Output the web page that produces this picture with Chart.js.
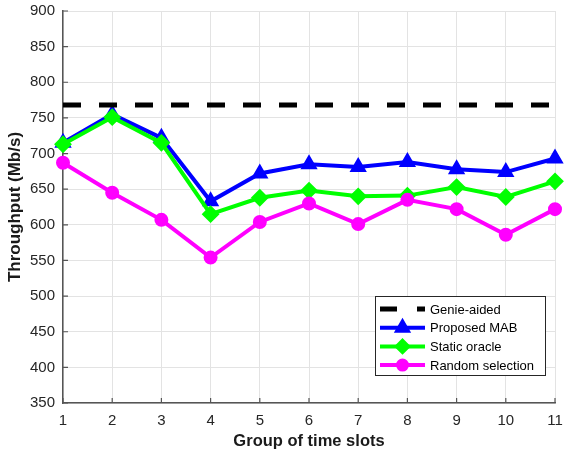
<!DOCTYPE html>
<html>
<head>
<meta charset="utf-8">
<script src="https://cdn.jsdelivr.net/npm/chart.js@4.4.1/dist/chart.umd.min.js"></script>
<style>
html, body { margin: 0; padding: 0; background: #fff; }
#wrap { width: 565px; height: 453px; }
</style>
</head>
<body>
<div id="wrap"><canvas id="chart" width="565" height="453"></canvas></div>
<script>
// data
var groups = [1, 2, 3, 4, 5, 6, 7, 8, 9, 10, 11];
var genieAided = [768, 768, 768, 768, 768, 768, 768, 768, 768, 768, 768];
var proposedMab = [715, 755, 722, 633, 672, 685, 681, 688, 678, 674, 693];
var staticOracle = [713, 751, 715, 615, 638, 648, 640, 641, 653, 639, 661];
var randomSelection = [687, 645, 607, 554, 604, 630, 601, 635, 622, 586, 622];
var yTicks = [350, 400, 450, 500, 550, 600, 650, 700, 750, 800, 850, 900];

var FONT = "'Liberation Sans', Arial, Helvetica, sans-serif";

function pts(vals) {
	return groups.map(function(g, i) { return { x: g, y: vals[i] }; });
}

// draw a marker like the matlab ones
function marker(ctx, style, x, y, r, color) {
	ctx.save();
	ctx.fillStyle = color;
	ctx.strokeStyle = color;
	ctx.lineWidth = 2;
	ctx.beginPath();
	if (style == 'triangle') {
		ctx.moveTo(x, y - r);
		ctx.lineTo(x + r * 0.866, y + r * 0.5);
		ctx.lineTo(x - r * 0.866, y + r * 0.5);
		ctx.closePath();
	} else if (style == 'rectRot') {
		ctx.moveTo(x, y - r);
		ctx.lineTo(x + r, y);
		ctx.lineTo(x, y + r);
		ctx.lineTo(x - r, y);
		ctx.closePath();
	} else {
		ctx.arc(x, y, r, 0, Math.PI * 2);
	}
	ctx.fill();
	ctx.stroke();
	ctx.restore();
}

// inward ticks + legend box inside the plot
var extras = {
	id: 'extras',
	afterDatasetsDraw: function(chart) {
		var ctx = chart.ctx;
		var a = chart.chartArea;
		var xs = chart.scales.x, ys = chart.scales.y;
		ctx.save();
		ctx.strokeStyle = '#555';
		ctx.lineWidth = 1.2;
		ctx.beginPath();
		groups.forEach(function(g) {
			var px = xs.getPixelForValue(g);
			ctx.moveTo(px, a.bottom);
			ctx.lineTo(px, a.bottom - 5);
		});
		yTicks.forEach(function(t) {
			var py = ys.getPixelForValue(t);
			ctx.moveTo(a.left, py);
			ctx.lineTo(a.left + 5, py);
		});
		ctx.stroke();
		ctx.restore();

		// legend
		var bx = 375, by = 296, bw = 170, bh = 79;
		ctx.save();
		ctx.fillStyle = '#fff';
		ctx.fillRect(bx, by, bw, bh);
		ctx.strokeStyle = '#262626';
		ctx.lineWidth = 1;
		ctx.strokeRect(bx + 0.5, by + 0.5, bw, bh);
		var rows = [
			{ label: 'Genie-aided', color: '#000', dash: true },
			{ label: 'Proposed MAB', color: '#0000ff', style: 'triangle', r: 8 },
			{ label: 'Static oracle', color: '#00ff00', style: 'rectRot', r: 7 },
			{ label: 'Random selection', color: '#ff00ff', style: 'circle', r: 5.5 }
		];
		ctx.font = '13px ' + FONT;
		ctx.textBaseline = 'middle';
		rows.forEach(function(row, i) {
			var y = by + 13 + i * 18.7;
			ctx.save();
			ctx.strokeStyle = row.color;
			ctx.lineWidth = row.dash ? 5 : 4;
			if (row.dash) ctx.setLineDash([17, 20]);
			ctx.beginPath();
			ctx.moveTo(380, y);
			ctx.lineTo(425, y);
			ctx.stroke();
			ctx.restore();
			if (row.style) marker(ctx, row.style, 402.5, y, row.r, row.color);
			ctx.fillStyle = '#000';
			ctx.fillText(row.label, 430, y + 1);
		});
		ctx.restore();
	}
};

var config = {
	type: 'line',
	data: {
		datasets: [{
			label: 'Genie-aided',
			data: pts(genieAided),
			borderColor: '#000',
			borderWidth: 5,
			borderDash: [18, 18],
			pointRadius: 0,
			order: 0
		}, {
			label: 'Proposed MAB',
			data: pts(proposedMab),
			borderColor: '#0000ff',
			backgroundColor: '#0000ff',
			borderWidth: 4,
			pointStyle: 'triangle',
			pointRadius: 8,
			pointBorderWidth: 2,
			order: 3
		}, {
			label: 'Static oracle',
			data: pts(staticOracle),
			borderColor: '#00ff00',
			backgroundColor: '#00ff00',
			borderWidth: 4,
			pointStyle: 'rectRot',
			pointRadius: 7.5,
			pointBorderWidth: 2,
			order: 2
		}, {
			label: 'Random selection',
			data: pts(randomSelection),
			borderColor: '#ff00ff',
			backgroundColor: '#ff00ff',
			borderWidth: 4,
			pointStyle: 'circle',
			pointRadius: 6,
			pointBorderWidth: 2,
			order: 1
		}]
	},
	options: {
		responsive: false,
		animation: false,
		devicePixelRatio: 1,
		clip: false,
		layout: { padding: { top: 11, right: 6, left: 0, bottom: 0 } },
		plugins: {
			legend: { display: false },
			tooltip: { enabled: false }
		},
		scales: {
			x: {
				type: 'linear',
				min: 1,
				max: 11,
				afterBuildTicks: function(s) {
					s.ticks = groups.map(function(g) { return { value: g }; });
				},
				afterFit: function(s) {
					s.height = 50;
					s.paddingLeft = 0;
					s.paddingRight = 0;
				},
				grid: { color: '#e3e3e3', lineWidth: 1, drawTicks: false },
				border: { color: '#555', width: 1.5 },
				ticks: {
					padding: 9,
					color: '#262626',
					font: { family: FONT, size: 15 }
				},
				title: {
					display: true,
					text: 'Group of time slots',
					color: '#1a1a1a',
					font: { family: FONT, size: 16.5, weight: 'bold' },
					padding: { top: 0, bottom: 2 }
				}
			},
			y: {
				min: 350,
				max: 900,
				afterBuildTicks: function(s) {
					s.ticks = yTicks.map(function(t) { return { value: t }; });
				},
				afterFit: function(s) {
					s.width = 63;
					s.paddingTop = 0;
					s.paddingBottom = 0;
				},
				grid: { color: '#e3e3e3', lineWidth: 1, drawTicks: false },
				border: { color: '#555', width: 1.5 },
				ticks: {
					padding: 8,
					color: '#262626',
					font: { family: FONT, size: 15 }
				},
				title: {
					display: true,
					text: 'Throughput (Mb/s)',
					color: '#1a1a1a',
					font: { family: FONT, size: 17, weight: 'bold' },
					padding: { top: 5, bottom: 0 }
				}
			}
		}
	},
	plugins: [extras]
};

window.myChart = new Chart(document.getElementById('chart'), config);
</script>
</body>
</html>
